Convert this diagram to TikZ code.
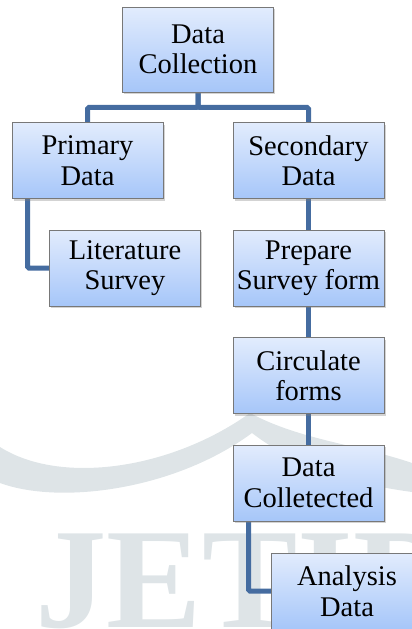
\documentclass[tikz,border=0pt]{standalone}
\usepackage{fontspec}
\setmainfont{LiberationSerif}[Extension=.ttf, UprightFont=*-Regular, BoldFont=*-Bold]
\usetikzlibrary{shadows,backgrounds}
\definecolor{linkblue}{RGB}{69,108,160}
\definecolor{boxtop}{RGB}{226,236,253}
\definecolor{boxbot}{RGB}{166,198,249}
\definecolor{boxline}{RGB}{120,120,120}
\definecolor{markgray}{RGB}{222,228,231}
\begin{document}
\begin{tikzpicture}[x=1pt,y=-1pt,
  box/.style={draw=boxline, line width=0.8pt, top color=boxtop, bottom color=boxbot,
    minimum width=151pt, minimum height=76pt, inner sep=0pt, align=center,
    font=\fontsize{28.5}{30.5}\selectfont,
    drop shadow={shadow xshift=1.5pt, shadow yshift=-2pt, opacity=0.35}},
  link/.style={draw=linkblue, line width=5pt, rounded corners=1.5pt}]
  \useasboundingbox (0,0) rectangle (412,629);

  \node[box, minimum height=85pt] (coll) at (198,49.5) {Data\\Collection};
  \node[box] (prim) at (87.5,160.5) {Primary\\Data};
  \node[box] (sec) at (308.5,160.5) {Secondary\\Data};
  \node[box] (lit) at (125,268) {Literature\\Survey};
  \node[box] (prep) at (308.5,268) {Prepare\\Survey form};
  \node[box] (circ) at (308.5,375.5) {Circulate\\forms};
  \node[box] (got) at (308.5,483) {Data\\Colletected};
  \node[box] (ana) at (347,591) {Analysis\\Data};

  \begin{pgfonlayer}{background}
    % watermark
    \begin{scope}
      \clip (0,0) rectangle (412,629);
      \fill[markgray] (0,447) .. controls (60,485) and (170,470) .. (250,413)
        .. controls (300,440) and (360,445) .. (412,463) -- (412,492)
        .. controls (360,485) and (300,470) .. (252,433)
        .. controls (175,490) and (60,505) .. (0,483) -- cycle;
      \node[anchor=base west, inner sep=0pt, text=markgray,
        font=\fontsize{143}{143}\selectfont\bfseries] (mark) at (35,627) {JETIR};
    \end{scope}
    \draw[link] (coll.south) -- ++(0,15) -| (prim.north);
    \draw[link] (coll.south) -- ++(0,15) -| (sec.north);
    \draw[link] ([xshift=-60pt]prim.south) |- (lit.west);
    \draw[link] (sec.south) -- (prep.north);
    \draw[link] (prep.south) -- (circ.north);
    \draw[link] (circ.south) -- (got.north);
    \draw[link] ([xshift=-60pt]got.south) |- (ana.west);
  \end{pgfonlayer}
\end{tikzpicture}
\end{document}
